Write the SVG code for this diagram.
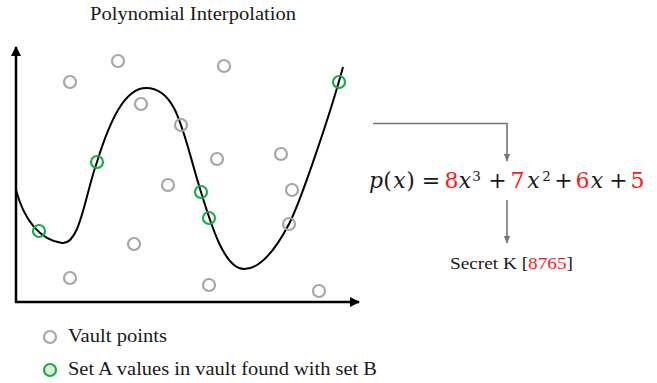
<svg xmlns="http://www.w3.org/2000/svg" width="657" height="383" viewBox="0 0 657 383">
<defs>
<style>
.t{font-family:"Liberation Serif","DejaVu Serif",serif;fill:#1a1a1a}
.m{font-family:"DejaVu Serif","Liberation Serif",serif;fill:#1a1a1a;font-size:22px;text-anchor:middle}
.i{font-style:italic}
.s{font-size:13.5px}
.v{fill:none;stroke:#a6a6a6;stroke-width:2.2}
.g{fill:none;stroke:#12b04a;stroke-width:2.2}
.r{fill:#ff1a1a}
.ax{stroke:#000;stroke-width:2.5;fill:none}
.cn{stroke:#767676;stroke-width:1.6;fill:none}
</style>
<marker id="ah" viewBox="0 0 10 10" refX="9" refY="5" markerWidth="4" markerHeight="4" orient="auto" markerUnits="strokeWidth"><path d="M0,0 L10,5 L0,10 z" fill="#000"/></marker>
<marker id="ag" viewBox="0 0 10 10" refX="9" refY="5" markerWidth="5" markerHeight="5" orient="auto" markerUnits="strokeWidth"><path d="M0,1 L10,5 L0,9 z" fill="#767676"/></marker>
</defs>
<rect width="657" height="383" fill="#fff"/>
<g id="title"><text class="t" x="193" y="20" font-size="19" text-anchor="middle" textLength="206" lengthAdjust="spacingAndGlyphs">Polynomial Interpolation</text></g>
<g id="axes">
<line class="ax" x1="16" y1="303" x2="16" y2="47" marker-end="url(#ah)"/>
<line class="ax" x1="15" y1="302" x2="359" y2="302" marker-end="url(#ah)"/>
</g>
<g id="curve"><path d="M16,190 C24,220 40,240 62,243 C80,245 85,195 97,162 C110,120 125,88 146,88 C178,88 183,135 201,192 C212,228 225,269 244,269 C262,269 278,245 289,224 C300,203 330,115 343,67" fill="none" stroke="#000" stroke-width="2"/></g>
<g id="vault-points">
<circle class="v" cx="70" cy="82" r="6"/>
<circle class="v" cx="118" cy="61" r="6"/>
<circle class="v" cx="224" cy="66" r="6"/>
<circle class="v" cx="141" cy="104" r="6"/>
<circle class="v" cx="181" cy="125" r="6"/>
<circle class="v" cx="217" cy="159" r="6"/>
<circle class="v" cx="281" cy="154" r="6"/>
<circle class="v" cx="168" cy="185" r="6"/>
<circle class="v" cx="292" cy="190" r="6"/>
<circle class="v" cx="289" cy="224" r="6"/>
<circle class="v" cx="134" cy="244" r="6"/>
<circle class="v" cx="70" cy="278" r="6"/>
<circle class="v" cx="209" cy="285" r="6"/>
<circle class="v" cx="319" cy="291" r="6"/>
</g>
<g id="set-a-points">
<circle class="g" cx="39" cy="231" r="6"/>
<circle class="g" cx="97" cy="162" r="6"/>
<circle class="g" cx="201" cy="192" r="6"/>
<circle class="g" cx="209" cy="218" r="6"/>
<circle class="g" cx="339" cy="82" r="6"/>
</g>
<g id="connectors">
<polyline class="cn" points="373,123.5 507,123.5 507,161" marker-end="url(#ag)"/>
<line class="cn" x1="507" y1="200" x2="507" y2="243" marker-end="url(#ag)"/>
</g>
<g id="formula">
<text class="m i" x="376" y="188">p</text>
<text class="m" x="387.5" y="188">(</text>
<text class="m i" x="399.5" y="188">x</text>
<text class="m" x="410.5" y="188">)</text>
<text class="m" x="431" y="188">=</text>
<text class="m r" x="451.5" y="188">8</text>
<text class="m i" x="465" y="188">x</text>
<text class="m s" x="476.5" y="181">3</text>
<text class="m" x="497.5" y="188">+</text>
<text class="m r" x="517.5" y="188">7</text>
<text class="m i" x="533.5" y="188">x</text>
<text class="m s" x="546.5" y="181">2</text>
<text class="m" x="563.5" y="188">+</text>
<text class="m r" x="582.5" y="188">6</text>
<text class="m i" x="597" y="188">x</text>
<text class="m" x="618.5" y="188">+</text>
<text class="m r" x="637.5" y="188">5</text>
</g>
<g id="secret"><text class="t" x="511.5" y="269" font-size="17.5" text-anchor="middle" textLength="123" lengthAdjust="spacingAndGlyphs">Secret K [<tspan class="r">8765</tspan>]</text></g>
<g id="legend">
<circle class="v" cx="50" cy="337" r="6"/>
<text class="t" x="68" y="342" font-size="18" textLength="99" lengthAdjust="spacingAndGlyphs">Vault points</text>
<circle cx="50" cy="370" r="6" fill="#e2f0d9" stroke="#12b04a" stroke-width="2.2"/>
<text class="t" x="68" y="375" font-size="18" textLength="309" lengthAdjust="spacingAndGlyphs">Set A values in vault found with set B</text>
</g>
</svg>
